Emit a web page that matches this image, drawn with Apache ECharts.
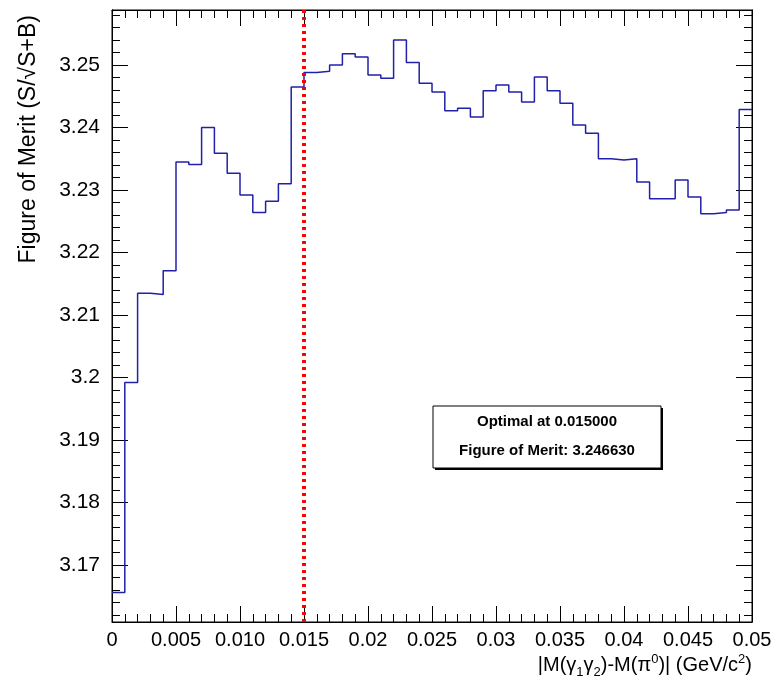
<!DOCTYPE html>
<html><head><meta charset="utf-8">
<script src="https://cdn.jsdelivr.net/npm/echarts@6/dist/echarts.min.js"></script>
<style>html,body{margin:0;padding:0;background:#fff}#c{width:781px;height:697px}</style>
</head><body><div id="c"></div>
<script>
const binWidth = 0.001;
const values = [3.1656,3.1992,3.2135,3.2133,3.2171,3.2345,3.2341,3.2400,3.2359,3.2327,
3.2292,3.2264,3.2282,3.2310,3.2465,3.2488,3.2490,3.2500,3.2518,3.2513,
3.2484,3.2479,3.2540,3.2504,3.2471,3.2457,3.2427,3.2431,3.2417,3.2459,
3.2468,3.2457,3.2441,3.2481,3.2459,3.2439,3.2404,3.2391,3.2350,3.2348,
3.2350,3.2313,3.2286,3.2286,3.2316,3.2289,3.2262,3.2264,3.2268,3.2429];
const xTickLabels = ['0','0.005','0.010','0.015','0.02','0.025','0.03','0.035','0.04','0.045','0.05'];
const yMajor = [3.17,3.18,3.19,3.2,3.21,3.22,3.23,3.24,3.25];
const yMinor = [3.162,3.164,3.166,3.168,3.172,3.174,3.176,3.178,3.182,3.184,3.186,3.188,3.192,3.194,3.196,3.198,3.202,3.204,3.206,3.208,3.212,3.214,3.216,3.218,3.222,3.224,3.226,3.228,3.232,3.234,3.236,3.238,3.242,3.244,3.246,3.248,3.252,3.254,3.256,3.258];
const yMin = 3.1609, yMax = 3.2588;
const optimalX = 0.015;
const boxLines = ['Optimal at 0.015000','Figure of Merit: 3.246630'];

const pts = values.map((v,i)=>[i*binWidth, v]);
pts.push([values.length*binWidth, values[values.length-1]]);
const font = 'Liberation Sans, Arial, sans-serif';
const chart = echarts.init(document.getElementById('c'));
const line = {lineStyle:{color:'#000'}};
function yAx(pos, ticks, len, labels){
  return {type:'value',min:yMin,max:yMax,position:pos,axisLine:{show:true,...line},splitLine:{show:false},
    axisTick:{show:true,inside:true,length:len,customValues:ticks,...line},
    axisLabel:labels?{show:true,color:'#000',fontSize:21,fontFamily:font,margin:12,customValues:yMajor,
      formatter:(v)=>String(parseFloat(v.toFixed(3)))}:{show:false}};
}
const xCommon = {type:'value',min:0,max:0.05,interval:0.005,axisLine:line,splitLine:{show:false},
  axisTick:{inside:true,length:16,...line},
  minorTick:{show:true,splitNumber:5,length:8,...line}};
const yMain = yAx('left', yMajor, 16, true);
yMain.name = 'Figure of Merit (S/√S+B)';
yMain.nameLocation='end'; yMain.nameRotate=90; yMain.nameGap=-5;
yMain.nameTextStyle={color:'#000',fontSize:23,fontFamily:font,align:'right',verticalAlign:'bottom',padding:[0,0,72,0]};
chart.setOption({
  animation:false,
  grid:{left:112,right:29,top:10,bottom:75,show:true,borderColor:'#000',borderWidth:1},
  xAxis:[{...xCommon,
    axisLabel:{color:'#000',fontSize:20,fontFamily:font,margin:8,
      formatter:(v)=>xTickLabels[Math.round(v/0.005)]},
    name:'{a||M(γ}{s|1}{a|γ}{s|2}{a|)-M(π}{p|0}{a|)| (GeV/c}{p|2}{a|)}',
    nameLocation:'end',nameGap:0,
    nameTextStyle:{align:'right',verticalAlign:'top',padding:[30,0,0,0],
      rich:{a:{fontSize:20,fontFamily:font,color:'#000'},s:{fontSize:13,fontFamily:font,color:'#000',padding:[14,0,0,0]},p:{fontSize:13,fontFamily:font,color:'#000',padding:[0,0,12,0]}}},
  },{...xCommon,position:'top',axisLabel:{show:false}}],
  yAxis:[yMain, yAx('left', yMinor, 8, false), yAx('right', yMajor, 16, false), yAx('right', yMinor, 8, false)],
  series:[{type:'line',step:'end',data:pts,symbol:'none',lineStyle:{color:'#2020a8',width:1.5},
    markLine:{silent:true,symbol:'none',label:{show:false},
      lineStyle:{color:'#ff0000',type:[3,4],width:4},
      data:[[{coord:[optimalX,yMin]},{coord:[optimalX,yMax]}]]}}],
  graphic:[
    {type:'rect',shape:{x:435,y:408,width:228,height:62},style:{fill:'#000'}},
    {type:'rect',shape:{x:433,y:406,width:228,height:62},style:{fill:'#fff',stroke:'#000',lineWidth:1}},
    {type:'text',x:547,y:422,style:{text:boxLines[0],fill:'#000',font:'bold 15px '+font,align:'center',verticalAlign:'middle'}},
    {type:'text',x:547,y:451,style:{text:boxLines[1],fill:'#000',font:'bold 15px '+font,align:'center',verticalAlign:'middle'}}
  ]
});
</script></body></html>
